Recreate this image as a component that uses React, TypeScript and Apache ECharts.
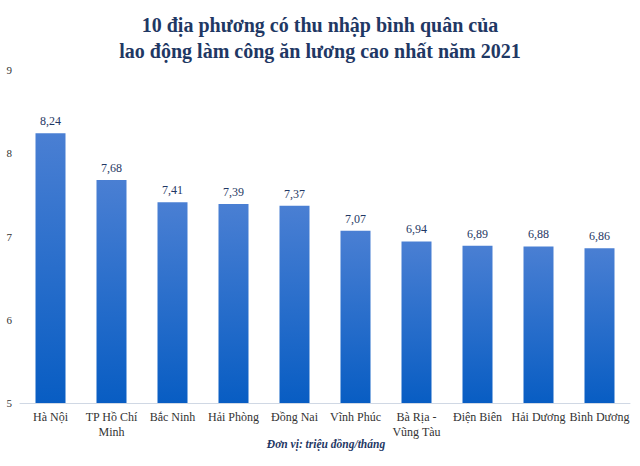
import React, { useEffect, useRef } from "react";
import * as echarts from "echarts";

const titleLines = [
  "10 địa phương có thu nhập bình quân của",
  "lao động làm công ăn lương cao nhất năm 2021",
];
const categories = [
  "Hà Nội",
  "TP Hồ Chí\nMinh",
  "Bắc Ninh",
  "Hải Phòng",
  "Đồng Nai",
  "Vĩnh Phúc",
  "Bà Rịa -\nVũng Tàu",
  "Điện Biên",
  "Hải Dương",
  "Bình Dương",
];
const values = [8.24, 7.68, 7.41, 7.39, 7.37, 7.07, 6.94, 6.89, 6.88, 6.86];
const unitText = "Đơn vị: triệu đồng/tháng";

export default function App() {
  const ref = useRef<HTMLDivElement>(null);
  useEffect(() => {
    if (!ref.current) return;
    const chart = echarts.init(ref.current, null, { renderer: "svg" });
    const serif = "'Liberation Serif', 'Times New Roman', serif";
    chart.setOption({
      animation: false,
      backgroundColor: "#ffffff",
      title: {
        text: titleLines.join("\n"),
        left: "center",
        top: 7,
        textStyle: {
          fontFamily: serif,
          fontSize: 20,
          fontWeight: "bold",
          color: "#1f3864",
          lineHeight: 26,
        },
      },
      graphic: [
        {
          type: "text",
          x: 326,
          y: 438,
          style: {
            text: unitText,
            font: "italic bold 11.5px " + serif,
            fill: "#1f3864",
            align: "center",
            verticalAlign: "top",
          },
        },
      ],
      grid: { left: 20, right: 10, top: 70, bottom: 63 },
      xAxis: {
        type: "category",
        data: categories,
        axisLine: { lineStyle: { color: "#d0d8e4", width: 1 } },
        axisTick: { show: false },
        axisLabel: {
          interval: 0,
          fontFamily: serif,
          fontSize: 12,
          color: "#333333",
          lineHeight: 15,
          margin: 6,
        },
      },
      yAxis: {
        type: "value",
        min: 5,
        max: 9,
        interval: 1,
        splitLine: { show: false },
        axisLine: { show: false },
        axisTick: { show: false },
        axisLabel: {
          fontFamily: serif,
          fontSize: 11,
          color: "#333333",
          margin: 8,
        },
      },
      series: [
        {
          type: "bar",
          data: values,
          barWidth: 30,
          itemStyle: {
            color: new echarts.graphic.LinearGradient(0, 0, 0, 1, [
              { offset: 0, color: "#4a7fd3" },
              { offset: 1, color: "#085dc3" },
            ]),
          },
          label: {
            show: true,
            position: "top",
            distance: 6,
            fontFamily: serif,
            fontSize: 12,
            color: "#1f3864",
            formatter: (p: any) => p.value.toFixed(2).replace(".", ","),
          },
        },
      ],
    });
    return () => chart.dispose();
  }, []);
  return <div ref={ref} style={{ width: 640, height: 466, position: "absolute", left: 0, top: 0 }} />;
}
